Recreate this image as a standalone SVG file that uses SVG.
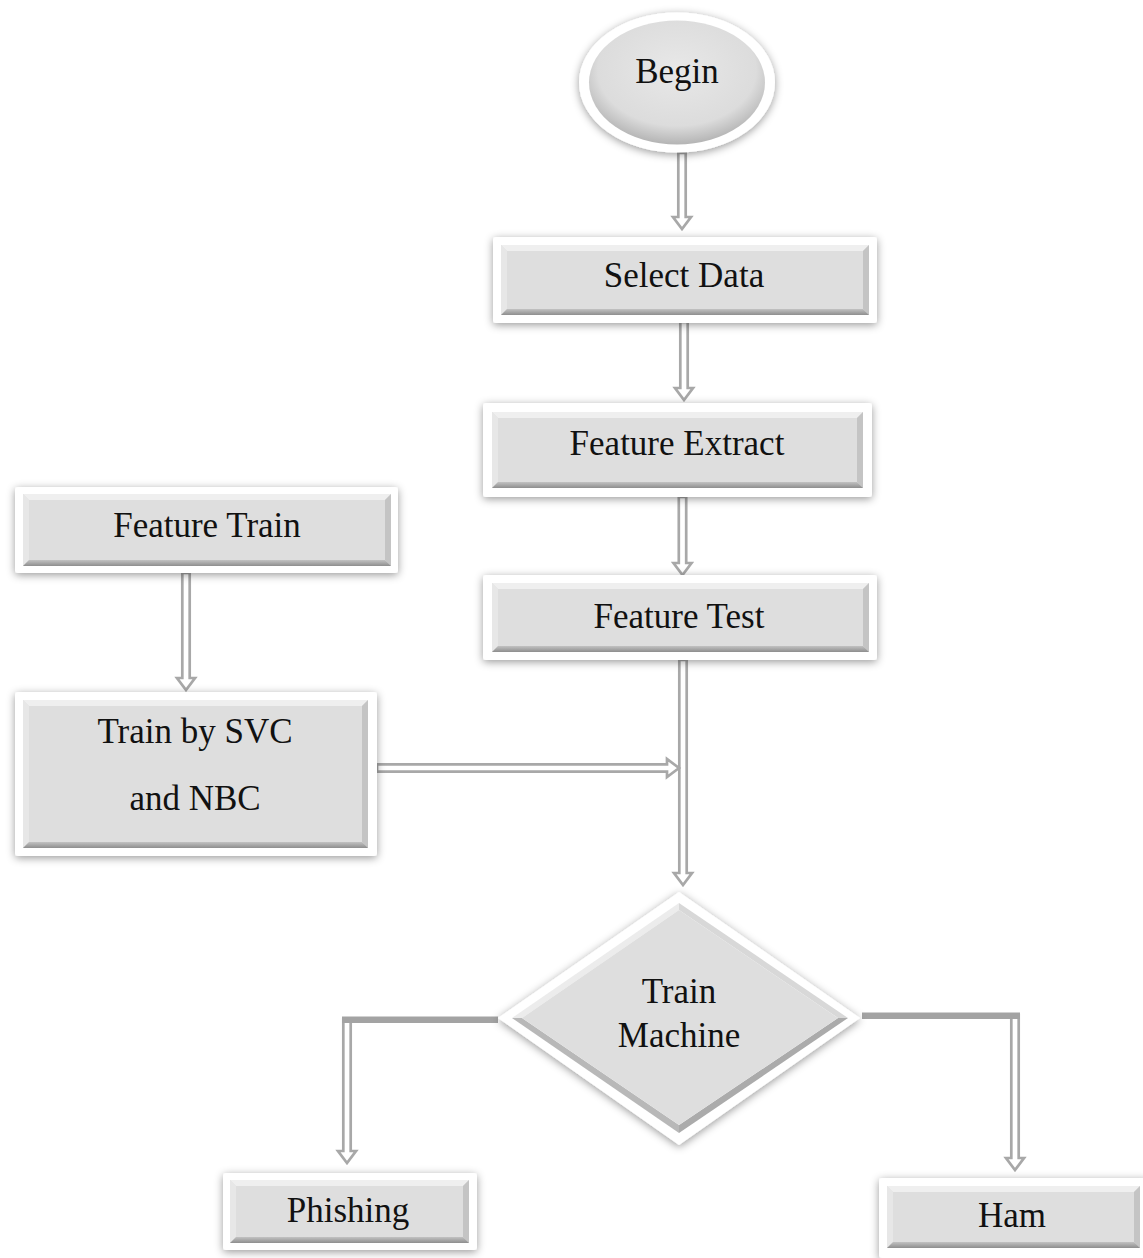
<svg xmlns="http://www.w3.org/2000/svg" width="1143" height="1258" viewBox="0 0 1143 1258">
<style>
.lbl{font-family:"Liberation Serif","Times New Roman",serif;font-size:35px;fill:#111;text-anchor:middle}
.frame{fill:#fff;filter:url(#sh)}
.face{fill:#dedede}
.bt{fill:#efefef}
.bl{fill:#e7e7e7}
.br{fill:#c4c4c4}
.bb{fill:url(#gb)}
.arr{fill:#fff;stroke:#a8a8a8;stroke-width:2.7;stroke-linejoin:miter}
.bar{fill:#a3a3a3}
</style>
<defs>
<filter id="sh" x="-20%" y="-20%" width="140%" height="140%">
<feDropShadow dx="0" dy="2" stdDeviation="4.5" flood-color="#000" flood-opacity="0.4"/>
</filter>
<linearGradient id="gb" x1="0" y1="0" x2="0" y2="1">
<stop offset="0" stop-color="#c2c2c2"/>
<stop offset="1" stop-color="#8e8e8e"/>
</linearGradient>
<radialGradient id="ge" cx="50%" cy="40%" r="60%">
<stop offset="0" stop-color="#e8e8e8"/>
<stop offset="0.75" stop-color="#dcdcdc"/>
<stop offset="1" stop-color="#b4b4b4"/>
</radialGradient>
</defs>
<rect width="1143" height="1258" fill="#fff"/>

<g id="connectors">
<polygon class="arr" points="678.3,153 685.7,153 685.7,217 691,217 682,229 673,217 678.3,217"/>
<polygon class="arr" points="680.3,322 687.7,322 687.7,388 693,388 684,400 675,388 680.3,388"/>
<polygon class="arr" points="678.8,497 686.2,497 686.2,563 691.5,563 682.5,575 673.5,563 678.8,563"/>
<polygon class="arr" points="679.3,660 686.7,660 686.7,873 692,873 683,885 674,873 679.3,873"/>
<polygon class="arr" points="182.3,573 189.7,573 189.7,678 195,678 186,690 177,678 182.3,678"/>
<polygon class="arr" points="377,764.3 667,764.3 667,759 679,768 667,777 667,771.7 377,771.7"/>
<polygon class="arr" points="343.3,1019 350.7,1019 350.7,1151 356,1151 347,1163 338,1151 343.3,1151"/>
<rect class="bar" x="342" y="1016.5" width="156" height="6.5"/>
<polygon class="arr" points="1011.3,1015 1018.7,1015 1018.7,1158 1024,1158 1015,1170 1006,1158 1011.3,1158"/>
<rect class="bar" x="862" y="1012.5" width="158" height="6.5"/>
</g>

<g id="begin">
<ellipse class="frame" cx="677" cy="82.5" rx="98" ry="70"/>
<ellipse cx="677" cy="82.5" rx="88" ry="62" fill="url(#ge)"/>
<text class="lbl" x="677" y="83">Begin</text>
</g>

<g id="select-data">
<rect class="frame" x="493" y="237" width="384" height="86" rx="3"/>
<rect class="face" x="501" y="245" width="368" height="70"/>
<polygon class="bt" points="501,245 869,245 863,251 507,251"/>
<polygon class="bl" points="501,245 507,251 507,309 501,315"/>
<polygon class="br" points="869,245 869,315 863,309 863,251"/>
<polygon class="bb" points="501,315 869,315 863,309 507,309"/>
<text class="lbl" x="684" y="287">Select Data</text>
</g>

<g id="feature-extract">
<rect class="frame" x="483" y="403" width="389" height="94" rx="3"/>
<rect class="face" x="492" y="412" width="371" height="76"/>
<polygon class="bt" points="492,412 863,412 857,418 498,418"/>
<polygon class="bl" points="492,412 498,418 498,482 492,488"/>
<polygon class="br" points="863,412 863,488 857,482 857,418"/>
<polygon class="bb" points="492,488 863,488 857,482 498,482"/>
<text class="lbl" x="677" y="455">Feature Extract</text>
</g>

<g id="feature-test">
<rect class="frame" x="483" y="575" width="394" height="85" rx="3"/>
<rect class="face" x="492" y="583" width="377" height="69"/>
<polygon class="bt" points="492,583 869,583 863,589 498,589"/>
<polygon class="bl" points="492,583 498,589 498,646 492,652"/>
<polygon class="br" points="869,583 869,652 863,646 863,589"/>
<polygon class="bb" points="492,652 869,652 863,646 498,646"/>
<text class="lbl" x="679" y="628">Feature Test</text>
</g>

<g id="feature-train">
<rect class="frame" x="15" y="487" width="383" height="86" rx="3"/>
<rect class="face" x="23" y="494" width="368" height="72"/>
<polygon class="bt" points="23,494 391,494 385,500 29,500"/>
<polygon class="bl" points="23,494 29,500 29,560 23,566"/>
<polygon class="br" points="391,494 391,566 385,560 385,500"/>
<polygon class="bb" points="23,566 391,566 385,560 29,560"/>
<text class="lbl" x="207" y="537">Feature Train</text>
</g>

<g id="train-svc-nbc">
<rect class="frame" x="15" y="692" width="362" height="164" rx="3"/>
<rect class="face" x="23" y="700" width="345" height="148"/>
<polygon class="bt" points="23,700 368,700 362,706 29,706"/>
<polygon class="bl" points="23,700 29,706 29,842 23,848"/>
<polygon class="br" points="368,700 368,848 362,842 362,706"/>
<polygon class="bb" points="23,848 368,848 362,842 29,842"/>
<text class="lbl" x="195" y="743">Train by SVC</text>
<text class="lbl" x="195" y="810">and NBC</text>
</g>

<g id="train-machine">
<polygon class="frame" points="679,892 860,1018 679,1145 498,1018"/>
<polygon fill="#ececec" points="679,903 512,1018 522,1018 679,910"/>
<polygon fill="#d8d8d8" points="679,903 848,1018 838,1018 679,910"/>
<polygon fill="#ababab" points="848,1018 679,1133 679,1125 838,1018"/>
<polygon fill="#b8b8b8" points="512,1018 679,1133 679,1125 522,1018"/>
<polygon class="face" points="679,910 838,1018 679,1125 522,1018"/>
<text class="lbl" x="679" y="1003">Train</text>
<text class="lbl" x="679" y="1047">Machine</text>
</g>

<g id="phishing">
<rect class="frame" x="223" y="1173" width="254" height="77" rx="3"/>
<rect class="face" x="230" y="1180" width="239" height="63"/>
<polygon class="bt" points="230,1180 469,1180 463,1186 236,1186"/>
<polygon class="bl" points="230,1180 236,1186 236,1237 230,1243"/>
<polygon class="br" points="469,1180 469,1243 463,1237 463,1186"/>
<polygon class="bb" points="230,1243 469,1243 463,1237 236,1237"/>
<text class="lbl" x="348" y="1222">Phishing</text>
</g>

<g id="ham">
<rect class="frame" x="879" y="1178" width="270" height="80" rx="3"/>
<rect class="face" x="887" y="1186" width="253" height="62"/>
<polygon class="bt" points="887,1186 1140,1186 1134,1192 893,1192"/>
<polygon class="bl" points="887,1186 893,1192 893,1242 887,1248"/>
<polygon class="br" points="1140,1186 1140,1248 1134,1242 1134,1192"/>
<polygon class="bb" points="887,1248 1140,1248 1134,1242 893,1242"/>
<text class="lbl" x="1012" y="1227">Ham</text>
</g>
</svg>
